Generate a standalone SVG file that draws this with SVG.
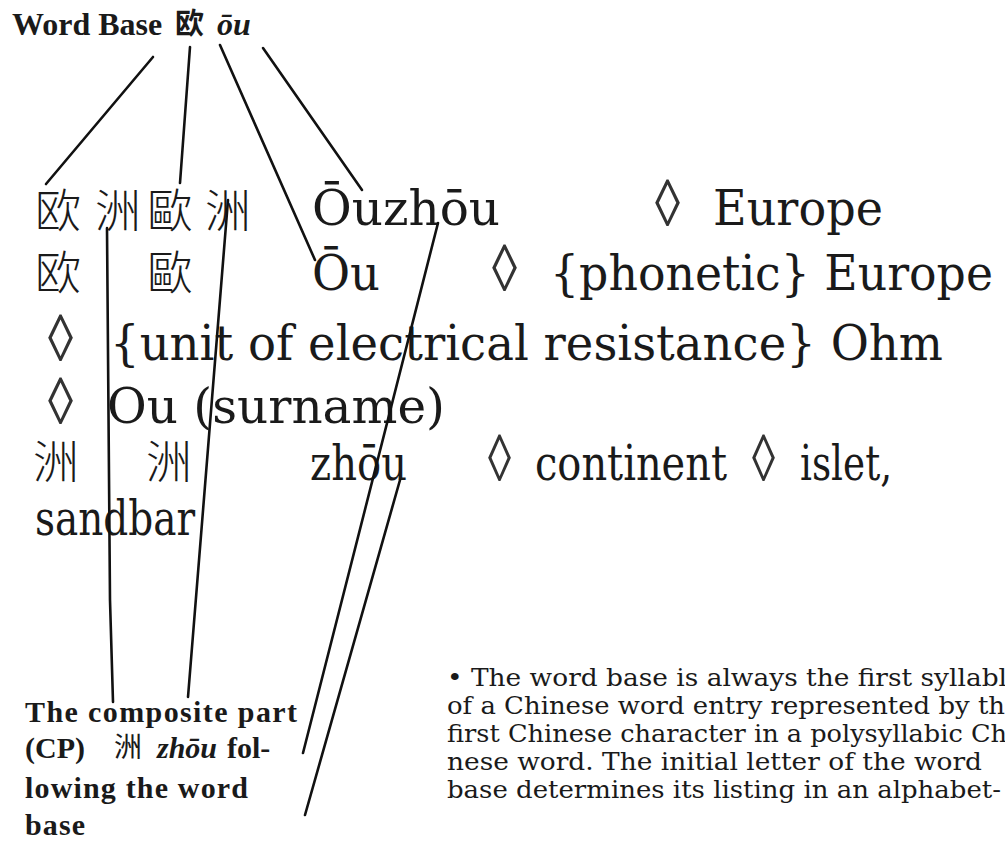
<svg xmlns="http://www.w3.org/2000/svg" width="1005" height="843" viewBox="0 0 1005 843">
<style>
.big{font-family:"DejaVu Serif","Liberation Serif",serif;font-size:48px;fill:#1a1a1a}
.dia{font-family:"Liberation Serif",serif;font-size:66px;fill:#333333}
.cjk{font-family:"Noto Sans CJK SC","Noto Sans CJK TC",sans-serif;font-size:46px;font-weight:300;fill:#1a1a1a}
.bold{font-family:"Liberation Serif",serif;font-weight:bold;fill:#1a1a1a}
.bcjk{font-family:"Noto Sans CJK SC",sans-serif;font-weight:bold;fill:#1a1a1a}
.rcjk{font-family:"Noto Sans CJK SC",sans-serif;font-weight:normal;fill:#1a1a1a}
.para{font-family:"DejaVu Serif","Liberation Serif",serif;font-size:25px;fill:#1a1a1a}
.ln{fill:none;stroke:#111;stroke-width:2.6;stroke-linecap:round;stroke-linejoin:round}
</style>
<rect width="1005" height="843" fill="#ffffff"/>

<g id="title">
<text class="bold" x="12" y="35" font-size="32">Word Base</text>
<text class="bcjk" x="175" y="34" font-size="29">欧</text>
<text class="bold" x="217" y="35" font-size="32" font-style="italic">ōu</text>
</g>

<g id="entry-ouzhou">
<text class="cjk" x="35" y="227">欧</text>
<text class="cjk" x="95" y="227">洲</text>
<text class="cjk" x="147" y="227">歐</text>
<text class="cjk" x="205" y="227">洲</text>
<text class="big" x="312" y="225" textLength="188" lengthAdjust="spacingAndGlyphs">Ōuzhōu</text>
<text class="dia" x="655" y="226" textLength="25" lengthAdjust="spacingAndGlyphs">◊</text>
<text class="big" x="713" y="225" textLength="170" lengthAdjust="spacingAndGlyphs">Europe</text>
</g>

<g id="entry-ou">
<text class="cjk" x="35" y="289">欧</text>
<text class="cjk" x="147" y="289">歐</text>
<text class="big" x="312" y="290" textLength="68" lengthAdjust="spacingAndGlyphs">Ōu</text>
<text class="dia" x="492" y="291" textLength="25" lengthAdjust="spacingAndGlyphs">◊</text>
<text class="big" x="550" y="290" textLength="443" lengthAdjust="spacingAndGlyphs">{phonetic} Europe</text>
<text class="dia" x="48" y="361" textLength="25" lengthAdjust="spacingAndGlyphs">◊</text>
<text class="big" x="110" y="360" textLength="833" lengthAdjust="spacingAndGlyphs">{unit of electrical resistance} Ohm</text>
<text class="dia" x="48" y="424" textLength="25" lengthAdjust="spacingAndGlyphs">◊</text>
<text class="big" x="107" y="423" textLength="338" lengthAdjust="spacingAndGlyphs">Ou (surname)</text>
</g>

<g id="entry-zhou">
<text class="cjk" x="33" y="478">洲</text>
<text class="cjk" x="146" y="478">洲</text>
<text class="big" x="310" y="480" textLength="97" lengthAdjust="spacingAndGlyphs">zhōu</text>
<text class="dia" x="488" y="481" textLength="23" lengthAdjust="spacingAndGlyphs">◊</text>
<text class="big" x="535" y="480" textLength="192" lengthAdjust="spacingAndGlyphs">continent</text>
<text class="dia" x="752" y="481" textLength="23" lengthAdjust="spacingAndGlyphs">◊</text>
<text class="big" x="800" y="480" textLength="92" lengthAdjust="spacingAndGlyphs">islet,</text>
<text class="big" x="35" y="535" textLength="160" lengthAdjust="spacingAndGlyphs">sandbar</text>
</g>

<g id="label-cp">
<text class="bold" x="25" y="722" font-size="30" textLength="272" lengthAdjust="spacing">The composite part</text>
<text class="bold" x="25" y="758" font-size="30">(CP)</text>
<text class="rcjk" x="114" y="757" font-size="28">洲</text>
<text class="bold" x="157" y="758" font-size="30" font-style="italic">zhōu</text>
<text class="bold" x="227" y="758" font-size="30">fol-</text>
<text class="bold" x="25" y="798" font-size="30" textLength="223" lengthAdjust="spacing">lowing the word</text>
<text class="bold" x="25" y="835" font-size="30" textLength="60" lengthAdjust="spacing">base</text>
</g>

<g id="note">
<text class="para" x="447" y="686" textLength="560" lengthAdjust="spacingAndGlyphs">• The word base is always the first syllabl</text>
<text class="para" x="447" y="714" textLength="558" lengthAdjust="spacingAndGlyphs">of a Chinese word entry represented by th</text>
<text class="para" x="447" y="742" textLength="560" lengthAdjust="spacingAndGlyphs">first Chinese character in a polysyllabic Ch</text>
<text class="para" x="447" y="770" textLength="535" lengthAdjust="spacingAndGlyphs">nese word. The initial letter of the word</text>
<text class="para" x="447" y="798" textLength="554" lengthAdjust="spacingAndGlyphs">base determines its listing in an alphabet-</text>
</g>

<g id="connectors">
<path class="ln" d="M153,57 L46,184"/>
<path class="ln" d="M190,47 L180,183"/>
<path class="ln" d="M220,45 L315,260"/>
<path class="ln" d="M263,48 L362,190"/>
<path class="ln" d="M107,228 L110,600 L113,702"/>
<path class="ln" d="M228,200 L188,697"/>
<path class="ln" d="M438,223 L303,753"/>
<path class="ln" d="M400,480 L305,815"/>
</g>
</svg>
